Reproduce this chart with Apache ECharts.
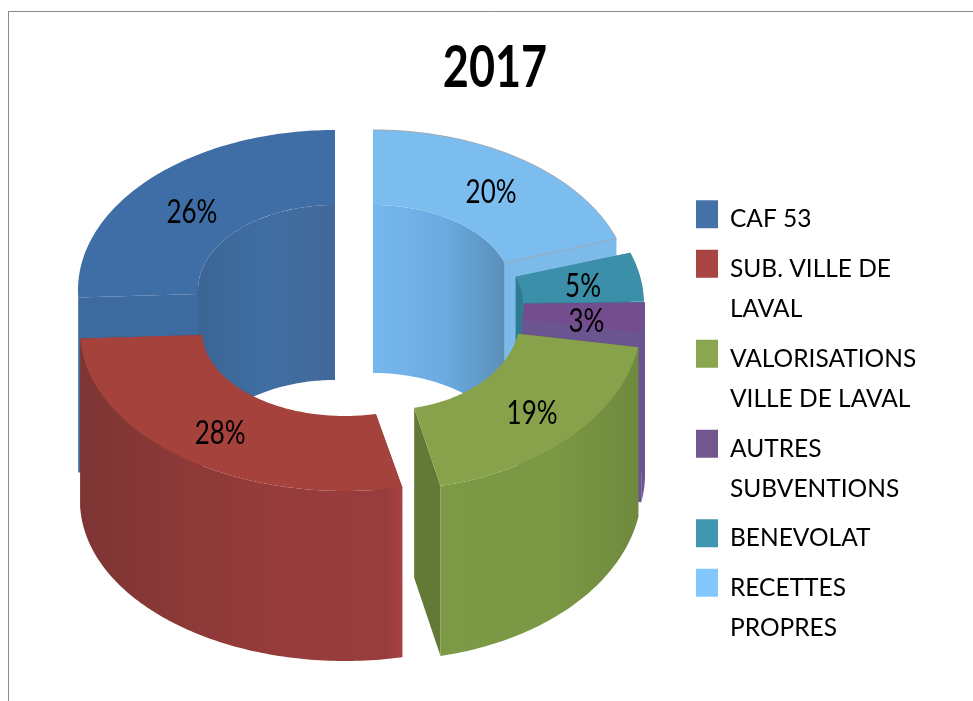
<!DOCTYPE html>
<html><head><meta charset="utf-8">
<style>html,body{margin:0;padding:0;background:#fff}#c{width:973px;height:701px}</style>
<script src="https://cdn.jsdelivr.net/npm/echarts@6/dist/echarts.min.js"></script>
</head><body><div id="c"></div>
<script>
const categories = ['CAF 53','SUB. VILLE DE\nLAVAL','VALORISATIONS\nVILLE DE LAVAL','AUTRES\nSUBVENTIONS','BENEVOLAT','RECETTES\nPROPRES'];
const values = [26,28,19,3,5,20];
const titleText = '2017';
const legendColors = ['#4472a8','#a84442','#8aa64f','#72578f','#4197b0','#83c7ff'];

// Layout of the drawn ring: each slice has its own exploded centre.
const FONT = 'Lato,"Liberation Sans",sans-serif';
const geom = [
 {cx:335,cy:290,rx:257,ry:160,ix:137,iy:85,h:175,order:0,lx:1,ly:8},
 {cx:345,cy:331,rx:265,ry:160,ix:143,iy:85,h:170,order:5,lx:0,ly:4},
 {cx:385,cy:318,rx:257,ry:172,ix:135,iy:92,h:170,order:4,lx:3,ly:3},
 {cx:387,cy:305,rx:258,ry:160,ix:137,iy:85,h:170,order:3,lx:0,ly:7},
 {cx:386,cy:304,rx:258,ry:160,ix:137,iy:85,h:170,order:2,lx:0,ly:4},
 {cx:373,cy:290,rx:257,ry:160,ix:139,iy:85,h:168,order:1,lx:2,ly:3}
];
const grad = stops => new echarts.graphic.LinearGradient(0,0,1,0,stops.map(c=>({offset:c[0],color:c[1]})));
const skins = [
 {top:'#3f6ea6',cut:'#3d6a9f',outer:'#3a6595',inner:[[0,'#3a6595'],[.5,'#406ea3'],[1,'#43689a']]},
 {top:'#a5423c',cut:'#8a3734',outer:[[0,'#7d3533'],[.3,'#8b3937'],[.6,'#963c3a'],[.95,'#983d3b'],[1,'#a84242']],inner:'#8a3734'},
 {top:'#87a24b',cut:'#637a36',outer:[[0,'#7c9a45'],[.6,'#7a9743'],[1,'#6f8a3e']],inner:'#637a36'},
 {top:'#734d8e',cut:'#6b5590',outer:'#6b5590',inner:'#5d3f7a'},
 {top:'#3c8fa8',cut:'#357f96',outer:'#3c8fa8',inner:'#2f7c92'},
 {top:'#7cbdf0',cut:'#7cbaea',outer:'#6aa8d8',inner:[[0,'#76b8ee'],[.55,'#6aaae0'],[1,'#5b8fb8']],edge:'#9aa7b3'}
];
const total = values.reduce((a,b)=>a+b,0);

function pt(g,rx,ry,a,dy){const r=a*Math.PI/180;return [g.cx+rx*Math.sin(r),g.cy-ry*Math.cos(r)+(dy||0)];}
function arc(g,rx,ry,a0,a1,dy){const out=[],n=Math.max(2,Math.ceil(Math.abs(a1-a0)));
  for(let i=0;i<=n;i++)out.push(pt(g,rx,ry,a0+(a1-a0)*i/n,dy));return out;}
function fillOf(f){return Array.isArray(f)?grad(f):f;}

function renderSlice(idx){
  return function(params,api){
    const v=api.value(0);
    let before=0;for(let i=0;i<idx;i++)before+=values[i];
    // the slices run anticlockwise from twelve o'clock
    const a1=360-before/total*360, a0=a1-v/total*360;
    const g=geom[idx], s=skins[idx], b=g.order*10, H=g.h, kids=[];
    const poly=(pts,fill,z)=>kids.push({type:'polygon',shape:{points:pts},z2:b+z,style:{fill:fillOf(fill),stroke:null}});
    [a0,a1].forEach(a=>{
      poly([pt(g,g.ix,g.iy,a),pt(g,g.rx,g.ry,a),pt(g,g.rx,g.ry,a,H),pt(g,g.ix,g.iy,a,H)],s.cut,1);
    });
    const ranges=[[a0,a1],[a0-360,a1-360]];
    ranges.forEach(r=>{
      const lo=Math.max(r[0],-90),hi=Math.min(r[1],90);
      if(hi>lo)poly(arc(g,g.ix,g.iy,lo,hi).concat(arc(g,g.ix,g.iy,hi,lo,H)),s.inner,2);
      const lo2=Math.max(r[0],90),hi2=Math.min(r[1],270);
      if(hi2>lo2)poly(arc(g,g.rx,g.ry,lo2,hi2).concat(arc(g,g.rx,g.ry,hi2,lo2,H)),s.outer,3);
    });
    poly(arc(g,g.rx,g.ry,a0,a1).concat(arc(g,g.ix,g.iy,a1,a0)),s.top,4);
    if(s.edge){
      const e=arc(g,g.rx,g.ry,a0,a1).concat([pt(g,g.ix,g.iy,a1)]);
      kids.push({type:'polyline',shape:{points:e},z2:b+5,style:{stroke:s.edge,lineWidth:1,fill:null}});
    }
    const m=(a0+a1)/2, p=pt(g,g.rx*.775,g.ry*.775,m,g.ly);
    kids.push({type:'text',z2:500,x:p[0]+g.lx,y:p[1],scaleY:1.25,style:{x:0,y:0,text:v+'%',align:'center',verticalAlign:'middle',fill:'#000',fontSize:26,fontFamily:FONT}});
    return {type:'group',children:kids};
  };
}

const swatchCenter=[214,263,353,443,533,582];
const legends=categories.map((name,i)=>{
  const multi=name.indexOf('\n')>=0;
  return {
    show:true,orient:'vertical',left:696,
    top: multi? swatchCenter[i]-60 : swatchCenter[i]-20,
    padding:0,itemWidth:22,itemHeight:28,itemGap:0,icon:'rect',selectedMode:false,
    data:[name],
    formatter:n=>(multi?'\n':'')+n.split('\n').map(l=>'{a|'+l+'}').join('\n'),
    textStyle:{color:'#000',fontSize:24.5,lineHeight:40.5,fontFamily:FONT,padding:[0,0,0,7],
      rich:{a:{color:'#000',fontSize:24.5,fontFamily:FONT,lineHeight:40.5,height:30,verticalAlign:'bottom'}}}
  };
});

const chart=echarts.init(document.getElementById('c'),null,{renderer:'canvas'});
chart.setOption({
  animation:false,backgroundColor:'#fff',
  legend:legends,
  color:legendColors,
  graphic:[
    {type:'line',shape:{x1:8.5,y1:11,x2:8.5,y2:701},style:{stroke:'#8c8c8c',lineWidth:1}},
    {type:'line',shape:{x1:8,y1:11.5,x2:973,y2:11.5},style:{stroke:'#8c8c8c',lineWidth:1}},
    {type:'text',x:495,y:69,scaleY:1.27,style:{x:0,y:0,text:titleText,align:'center',verticalAlign:'middle',fontSize:45,fontWeight:'bold',fill:'#000',fontFamily:FONT}}
  ],
  series:categories.map((name,i)=>({
    type:'custom',name:name,coordinateSystem:'none',silent:true,
    itemStyle:{color:legendColors[i]},
    renderItem:renderSlice(i),
    data:[[values[i]]]
  }))
});
</script></body></html>
